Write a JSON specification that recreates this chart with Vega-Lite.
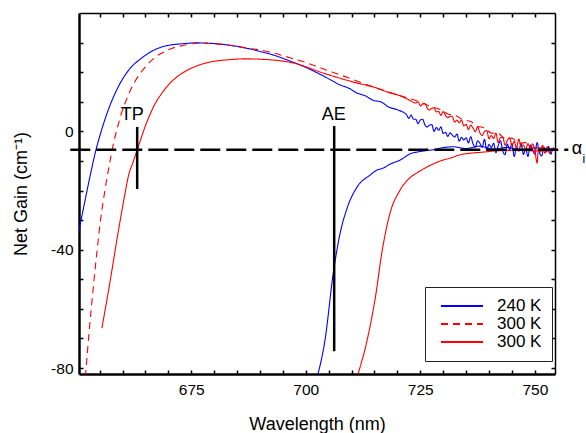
{
  "$schema": "https://vega.github.io/schema/vega-lite/v6.json",
  "width": 476,
  "height": 361,
  "autosize": {"type": "none"},
  "padding": {"left": 79, "top": 13, "right": 31, "bottom": 59},
  "background": "white",
  "config": {
    "view": {"stroke": null},
    "font": "Liberation Sans",
    "axis": {
      "grid": false,
      "labelFont": "Liberation Sans",
      "labelFontSize": 15.5,
      "labelColor": "black",
      "titleFont": "Liberation Sans",
      "titleFontSize": 18,
      "titleFontWeight": "normal",
      "titleColor": "black",
      "domainColor": "black",
      "tickColor": "black",
      "tickSize": -4,
      "tickWidth": 1.5
    },
    "legend": {
      "strokeColor": "#222222",
      "fillColor": "white",
      "padding": 10,
      "symbolType": "stroke",
      "symbolStrokeWidth": 2,
      "symbolSize": 1764,
      "clipHeight": 18,
      "labelFont": "Liberation Sans",
      "labelFontSize": 17,
      "labelColor": "black",
      "labelOffset": 13,
      "symbolOffset": 5,
      "rowPadding": 0
    }
  },
  "datasets": {
    "curves": [
      {"s": "a", "b": 1, "x": 650.3, "y": -35.0},
      {"s": "a", "b": 1, "x": 651.8, "y": -23.5},
      {"s": "a", "b": 1, "x": 653.0, "y": -14.5},
      {"s": "a", "b": 1, "x": 654.2, "y": -6.3},
      {"s": "a", "b": 1, "x": 655.5, "y": 0.8},
      {"s": "a", "b": 1, "x": 656.9, "y": 7.3},
      {"s": "a", "b": 1, "x": 658.7, "y": 13.9},
      {"s": "a", "b": 1, "x": 661.3, "y": 20.6},
      {"s": "a", "b": 1, "x": 664.2, "y": 24.8},
      {"s": "a", "b": 1, "x": 667.8, "y": 28.1},
      {"s": "a", "b": 1, "x": 670.5, "y": 29.2},
      {"s": "a", "b": 1, "x": 673.0, "y": 29.6},
      {"s": "a", "b": 1, "x": 676.0, "y": 29.9},
      {"s": "a", "b": 1, "x": 678.7, "y": 29.8},
      {"s": "a", "b": 1, "x": 682.4, "y": 29.3},
      {"s": "a", "b": 1, "x": 686.8, "y": 28.2},
      {"s": "a", "b": 1, "x": 690.0, "y": 27.0},
      {"s": "a", "b": 1, "x": 692.9, "y": 25.8},
      {"s": "a", "b": 1, "x": 696.5, "y": 23.8},
      {"s": "a", "b": 1, "x": 700.3, "y": 21.4},
      {"s": "a", "b": 1, "x": 704.0, "y": 18.6},
      {"s": "a", "b": 1, "x": 707.5, "y": 15.7},
      {"s": "a", "b": 1, "x": 709.5, "y": 14.5},
      {"s": "a", "b": 1, "x": 711.0, "y": 13.1},
      {"s": "a", "b": 1, "x": 713.0, "y": 12.0},
      {"s": "a", "b": 1, "x": 714.7, "y": 10.5},
      {"s": "a", "b": 1, "x": 716.5, "y": 9.9},
      {"s": "a", "b": 1, "x": 718.0, "y": 8.3},
      {"s": "a", "b": 1, "x": 720.0, "y": 7.3},
      {"s": "a", "b": 1, "x": 722.0, "y": 5.6},
      {"s": "a", "b": 1, "x": 722.5, "y": 4.4},
      {"s": "a", "b": 1, "x": 723.0, "y": 5.5},
      {"s": "a", "b": 1, "x": 723.5, "y": 4.1},
      {"s": "a", "b": 1, "x": 724.0, "y": 4.1},
      {"s": "a", "b": 1, "x": 724.5, "y": 2.6},
      {"s": "a", "b": 1, "x": 725.0, "y": 3.8},
      {"s": "a", "b": 1, "x": 725.5, "y": 4.1},
      {"s": "a", "b": 1, "x": 726.0, "y": 2.2},
      {"s": "a", "b": 1, "x": 726.5, "y": 1.5},
      {"s": "a", "b": 1, "x": 727.0, "y": 2.1},
      {"s": "a", "b": 1, "x": 727.5, "y": 2.3},
      {"s": "a", "b": 1, "x": 728.0, "y": 0.0},
      {"s": "a", "b": 1, "x": 728.5, "y": 1.3},
      {"s": "a", "b": 1, "x": 729.0, "y": 0.4},
      {"s": "a", "b": 1, "x": 729.5, "y": 1.5},
      {"s": "a", "b": 1, "x": 730.0, "y": -0.7},
      {"s": "a", "b": 1, "x": 730.5, "y": -0.3},
      {"s": "a", "b": 1, "x": 731.0, "y": -1.7},
      {"s": "a", "b": 1, "x": 731.5, "y": -0.5},
      {"s": "a", "b": 1, "x": 732.0, "y": -1.3},
      {"s": "a", "b": 1, "x": 732.5, "y": -1.9},
      {"s": "a", "b": 1, "x": 733.0, "y": -0.9},
      {"s": "a", "b": 1, "x": 733.5, "y": -3.3},
      {"s": "a", "b": 1, "x": 734.0, "y": -2.0},
      {"s": "a", "b": 1, "x": 734.5, "y": -2.9},
      {"s": "a", "b": 1, "x": 735.0, "y": -2.2},
      {"s": "a", "b": 1, "x": 735.5, "y": -3.9},
      {"s": "a", "b": 1, "x": 736.0, "y": -1.8},
      {"s": "a", "b": 1, "x": 736.5, "y": -4.2},
      {"s": "a", "b": 1, "x": 737.0, "y": -5.3},
      {"s": "a", "b": 1, "x": 737.5, "y": -3.2},
      {"s": "a", "b": 1, "x": 738.0, "y": -4.0},
      {"s": "a", "b": 1, "x": 738.5, "y": -5.4},
      {"s": "a", "b": 1, "x": 739.0, "y": -2.7},
      {"s": "a", "b": 1, "x": 739.5, "y": -6.3},
      {"s": "a", "b": 1, "x": 740.0, "y": -4.4},
      {"s": "a", "b": 1, "x": 740.5, "y": -5.5},
      {"s": "a", "b": 1, "x": 741.0, "y": -4.0},
      {"s": "a", "b": 1, "x": 741.5, "y": -7.2},
      {"s": "a", "b": 1, "x": 742.0, "y": -4.8},
      {"s": "a", "b": 1, "x": 742.5, "y": -3.2},
      {"s": "a", "b": 1, "x": 743.0, "y": -6.7},
      {"s": "a", "b": 1, "x": 743.5, "y": -7.9},
      {"s": "a", "b": 1, "x": 744.0, "y": -4.3},
      {"s": "a", "b": 1, "x": 744.5, "y": -6.2},
      {"s": "a", "b": 1, "x": 745.0, "y": -4.1},
      {"s": "a", "b": 1, "x": 745.5, "y": -8.5},
      {"s": "a", "b": 1, "x": 746.0, "y": -5.3},
      {"s": "a", "b": 1, "x": 746.5, "y": -6.7},
      {"s": "a", "b": 1, "x": 747.0, "y": -4.0},
      {"s": "a", "b": 1, "x": 747.5, "y": -7.8},
      {"s": "a", "b": 1, "x": 748.0, "y": -5.9},
      {"s": "a", "b": 1, "x": 748.5, "y": -8.5},
      {"s": "a", "b": 1, "x": 749.0, "y": -4.6},
      {"s": "a", "b": 1, "x": 749.5, "y": -6.2},
      {"s": "a", "b": 1, "x": 750.0, "y": -7.7},
      {"s": "a", "b": 1, "x": 750.5, "y": -3.8},
      {"s": "a", "b": 1, "x": 751.0, "y": -7.2},
      {"s": "a", "b": 1, "x": 751.5, "y": -8.3},
      {"s": "a", "b": 1, "x": 752.0, "y": -5.4},
      {"s": "a", "b": 1, "x": 752.5, "y": -7.0},
      {"s": "a", "b": 1, "x": 753.0, "y": -5.1},
      {"s": "a", "b": 1, "x": 753.5, "y": -7.7},
      {"s": "a", "b": 1, "x": 754.0, "y": -5.6},
      {"s": "a", "b": 1, "x": 754.4, "y": -6.5},

      {"s": "a", "b": 2, "x": 702.5, "y": -83.0},
      {"s": "a", "b": 2, "x": 704.2, "y": -70.5},
      {"s": "a", "b": 2, "x": 706.0, "y": -47.9},
      {"s": "a", "b": 2, "x": 707.5, "y": -34.4},
      {"s": "a", "b": 2, "x": 709.1, "y": -25.6},
      {"s": "a", "b": 2, "x": 711.2, "y": -18.8},
      {"s": "a", "b": 2, "x": 714.1, "y": -14.7},
      {"s": "a", "b": 2, "x": 715.5, "y": -13.1},
      {"s": "a", "b": 2, "x": 716.9, "y": -12.4},
      {"s": "a", "b": 2, "x": 718.5, "y": -11.0},
      {"s": "a", "b": 2, "x": 720.6, "y": -9.7},
      {"s": "a", "b": 2, "x": 722.8, "y": -7.6},
      {"s": "a", "b": 2, "x": 725.0, "y": -6.8},
      {"s": "a", "b": 2, "x": 727.8, "y": -6.2},
      {"s": "a", "b": 2, "x": 730.0, "y": -5.5},
      {"s": "a", "b": 2, "x": 732.2, "y": -5.2},
      {"s": "a", "b": 2, "x": 735.0, "y": -5.8},
      {"s": "a", "b": 2, "x": 738.0, "y": -5.0},
      {"s": "a", "b": 2, "x": 741.0, "y": -6.0},
      {"s": "a", "b": 2, "x": 744.0, "y": -5.4},
      {"s": "a", "b": 2, "x": 747.0, "y": -6.4},
      {"s": "a", "b": 2, "x": 750.0, "y": -5.6},
      {"s": "a", "b": 2, "x": 754.4, "y": -6.2},

      {"s": "b", "b": 1, "x": 651.9, "y": -83.0},
      {"s": "b", "b": 1, "x": 652.7, "y": -68.0},
      {"s": "b", "b": 1, "x": 653.6, "y": -53.0},
      {"s": "b", "b": 1, "x": 654.4, "y": -41.0},
      {"s": "b", "b": 1, "x": 655.2, "y": -30.0},
      {"s": "b", "b": 1, "x": 656.2, "y": -19.5},
      {"s": "b", "b": 1, "x": 657.1, "y": -11.5},
      {"s": "b", "b": 1, "x": 657.9, "y": -5.0},
      {"s": "b", "b": 1, "x": 658.8, "y": 0.8},
      {"s": "b", "b": 1, "x": 659.8, "y": 6.3},
      {"s": "b", "b": 1, "x": 661.0, "y": 11.3},
      {"s": "b", "b": 1, "x": 662.7, "y": 16.8},
      {"s": "b", "b": 1, "x": 664.9, "y": 21.6},
      {"s": "b", "b": 1, "x": 667.1, "y": 25.0},
      {"s": "b", "b": 1, "x": 669.9, "y": 27.5},
      {"s": "b", "b": 1, "x": 673.7, "y": 29.2},
      {"s": "b", "b": 1, "x": 676.5, "y": 29.8},
      {"s": "b", "b": 1, "x": 678.7, "y": 29.7},
      {"s": "b", "b": 1, "x": 682.4, "y": 29.3},
      {"s": "b", "b": 1, "x": 686.8, "y": 28.2},
      {"s": "b", "b": 1, "x": 690.0, "y": 27.5},
      {"s": "b", "b": 1, "x": 692.9, "y": 26.5},
      {"s": "b", "b": 1, "x": 696.5, "y": 24.9},
      {"s": "b", "b": 1, "x": 700.3, "y": 23.1},
      {"s": "b", "b": 1, "x": 704.0, "y": 21.0},
      {"s": "b", "b": 1, "x": 707.5, "y": 19.1},
      {"s": "b", "b": 1, "x": 711.0, "y": 17.1},
      {"s": "b", "b": 1, "x": 714.7, "y": 15.0},
      {"s": "b", "b": 1, "x": 718.5, "y": 13.1},
      {"s": "b", "b": 1, "x": 722.2, "y": 11.3},
      {"s": "b", "b": 1, "x": 725.5, "y": 9.6},
      {"s": "b", "b": 1, "x": 727.5, "y": 8.2},
      {"s": "b", "b": 1, "x": 729.4, "y": 7.4},
      {"s": "b", "b": 1, "x": 731.0, "y": 5.9},
      {"s": "b", "b": 1, "x": 733.0, "y": 5.1},
      {"s": "b", "b": 1, "x": 734.5, "y": 3.8},
      {"s": "b", "b": 1, "x": 736.0, "y": 3.3},
      {"s": "b", "b": 1, "x": 737.5, "y": 1.7},
      {"s": "b", "b": 1, "x": 739.0, "y": 1.2},
      {"s": "b", "b": 1, "x": 740.5, "y": -0.6},
      {"s": "b", "b": 1, "x": 742.0, "y": -0.7},
      {"s": "b", "b": 1, "x": 743.5, "y": -2.4},
      {"s": "b", "b": 1, "x": 745.0, "y": -2.3},
      {"s": "b", "b": 1, "x": 746.5, "y": -4.0},
      {"s": "b", "b": 1, "x": 748.0, "y": -3.8},
      {"s": "b", "b": 1, "x": 749.5, "y": -5.6},
      {"s": "b", "b": 1, "x": 751.0, "y": -4.9},
      {"s": "b", "b": 1, "x": 752.5, "y": -6.6},
      {"s": "b", "b": 1, "x": 754.4, "y": -5.8},

      {"s": "c", "b": 1, "x": 655.5, "y": -66.5},
      {"s": "c", "b": 1, "x": 656.3, "y": -59.5},
      {"s": "c", "b": 1, "x": 657.2, "y": -51.5},
      {"s": "c", "b": 1, "x": 658.1, "y": -43.0},
      {"s": "c", "b": 1, "x": 659.0, "y": -34.5},
      {"s": "c", "b": 1, "x": 659.9, "y": -26.5},
      {"s": "c", "b": 1, "x": 660.6, "y": -20.5},
      {"s": "c", "b": 1, "x": 661.3, "y": -15.0},
      {"s": "c", "b": 1, "x": 662.3, "y": -10.4},
      {"s": "c", "b": 1, "x": 663.2, "y": -6.3},
      {"s": "c", "b": 1, "x": 664.1, "y": -2.1},
      {"s": "c", "b": 1, "x": 665.0, "y": 1.9},
      {"s": "c", "b": 1, "x": 666.0, "y": 5.7},
      {"s": "c", "b": 1, "x": 667.1, "y": 9.3},
      {"s": "c", "b": 1, "x": 668.5, "y": 12.7},
      {"s": "c", "b": 1, "x": 669.9, "y": 15.5},
      {"s": "c", "b": 1, "x": 671.8, "y": 18.3},
      {"s": "c", "b": 1, "x": 673.7, "y": 20.3},
      {"s": "c", "b": 1, "x": 676.0, "y": 22.0},
      {"s": "c", "b": 1, "x": 678.7, "y": 23.3},
      {"s": "c", "b": 1, "x": 683.1, "y": 24.2},
      {"s": "c", "b": 1, "x": 686.8, "y": 24.5},
      {"s": "c", "b": 1, "x": 692.9, "y": 24.1},
      {"s": "c", "b": 1, "x": 697.3, "y": 23.1},
      {"s": "c", "b": 1, "x": 703.8, "y": 19.7},
      {"s": "c", "b": 1, "x": 711.3, "y": 16.3},
      {"s": "c", "b": 1, "x": 715.0, "y": 14.9},
      {"s": "c", "b": 1, "x": 718.4, "y": 13.0},
      {"s": "c", "b": 1, "x": 720.5, "y": 12.1},
      {"s": "c", "b": 1, "x": 722.2, "y": 10.9},
      {"s": "c", "b": 1, "x": 724.0, "y": 9.6},
      {"s": "c", "b": 1, "x": 724.5, "y": 10.0},
      {"s": "c", "b": 1, "x": 725.0, "y": 8.6},
      {"s": "c", "b": 1, "x": 725.5, "y": 9.2},
      {"s": "c", "b": 1, "x": 726.0, "y": 9.4},
      {"s": "c", "b": 1, "x": 726.5, "y": 7.9},
      {"s": "c", "b": 1, "x": 727.0, "y": 7.2},
      {"s": "c", "b": 1, "x": 727.5, "y": 7.8},
      {"s": "c", "b": 1, "x": 728.0, "y": 7.9},
      {"s": "c", "b": 1, "x": 728.5, "y": 6.6},
      {"s": "c", "b": 1, "x": 729.0, "y": 6.7},
      {"s": "c", "b": 1, "x": 729.5, "y": 5.4},
      {"s": "c", "b": 1, "x": 730.0, "y": 6.7},
      {"s": "c", "b": 1, "x": 730.5, "y": 5.4},
      {"s": "c", "b": 1, "x": 731.0, "y": 4.6},
      {"s": "c", "b": 1, "x": 731.5, "y": 5.1},
      {"s": "c", "b": 1, "x": 732.0, "y": 5.0},
      {"s": "c", "b": 1, "x": 732.5, "y": 3.1},
      {"s": "c", "b": 1, "x": 733.0, "y": 3.8},
      {"s": "c", "b": 1, "x": 733.5, "y": 2.9},
      {"s": "c", "b": 1, "x": 734.0, "y": 3.8},
      {"s": "c", "b": 1, "x": 734.5, "y": 1.8},
      {"s": "c", "b": 1, "x": 735.0, "y": 2.4},
      {"s": "c", "b": 1, "x": 735.5, "y": 0.6},
      {"s": "c", "b": 1, "x": 736.0, "y": 2.1},
      {"s": "c", "b": 1, "x": 736.5, "y": 1.1},
      {"s": "c", "b": 1, "x": 737.0, "y": -0.1},
      {"s": "c", "b": 1, "x": 737.5, "y": 1.5},
      {"s": "c", "b": 1, "x": 738.0, "y": -0.5},
      {"s": "c", "b": 1, "x": 738.5, "y": -1.4},
      {"s": "c", "b": 1, "x": 739.0, "y": -0.1},
      {"s": "c", "b": 1, "x": 739.5, "y": 0.3},
      {"s": "c", "b": 1, "x": 740.0, "y": -2.5},
      {"s": "c", "b": 1, "x": 740.5, "y": -1.4},
      {"s": "c", "b": 1, "x": 741.0, "y": -2.4},
      {"s": "c", "b": 1, "x": 741.5, "y": -0.6},
      {"s": "c", "b": 1, "x": 742.0, "y": -3.8},
      {"s": "c", "b": 1, "x": 742.5, "y": -2.1},
      {"s": "c", "b": 1, "x": 743.0, "y": -2.0},
      {"s": "c", "b": 1, "x": 743.5, "y": -4.7},
      {"s": "c", "b": 1, "x": 744.0, "y": -3.0},
      {"s": "c", "b": 1, "x": 744.5, "y": -2.2},
      {"s": "c", "b": 1, "x": 745.0, "y": -4.9},
      {"s": "c", "b": 1, "x": 745.5, "y": -3.4},
      {"s": "c", "b": 1, "x": 746.0, "y": -5.7},
      {"s": "c", "b": 1, "x": 746.5, "y": -2.6},
      {"s": "c", "b": 1, "x": 747.0, "y": -5.3},
      {"s": "c", "b": 1, "x": 747.5, "y": -4.6},
      {"s": "c", "b": 1, "x": 748.0, "y": -6.2},
      {"s": "c", "b": 1, "x": 748.5, "y": -4.1},
      {"s": "c", "b": 1, "x": 749.0, "y": -5.7},
      {"s": "c", "b": 1, "x": 749.5, "y": -4.2},
      {"s": "c", "b": 1, "x": 750.0, "y": -6.4},
      {"s": "c", "b": 1, "x": 750.5, "y": -10.7},
      {"s": "c", "b": 1, "x": 750.8, "y": -5.4},
      {"s": "c", "b": 1, "x": 751.2, "y": -7.0},
      {"s": "c", "b": 1, "x": 751.7, "y": -4.7},
      {"s": "c", "b": 1, "x": 752.2, "y": -7.4},
      {"s": "c", "b": 1, "x": 752.7, "y": -5.2},
      {"s": "c", "b": 1, "x": 753.2, "y": -7.4},
      {"s": "c", "b": 1, "x": 753.7, "y": -5.7},
      {"s": "c", "b": 1, "x": 754.4, "y": -6.5},

      {"s": "c", "b": 2, "x": 711.2, "y": -83.0},
      {"s": "c", "b": 2, "x": 713.4, "y": -70.5},
      {"s": "c", "b": 2, "x": 715.2, "y": -56.0},
      {"s": "c", "b": 2, "x": 716.7, "y": -40.1},
      {"s": "c", "b": 2, "x": 718.4, "y": -27.6},
      {"s": "c", "b": 2, "x": 720.6, "y": -19.8},
      {"s": "c", "b": 2, "x": 722.8, "y": -15.6},
      {"s": "c", "b": 2, "x": 724.3, "y": -14.0},
      {"s": "c", "b": 2, "x": 726.5, "y": -12.0},
      {"s": "c", "b": 2, "x": 730.0, "y": -9.7},
      {"s": "c", "b": 2, "x": 731.6, "y": -9.0},
      {"s": "c", "b": 2, "x": 733.7, "y": -7.9},
      {"s": "c", "b": 2, "x": 735.3, "y": -7.5},
      {"s": "c", "b": 2, "x": 738.8, "y": -7.0},
      {"s": "c", "b": 2, "x": 742.5, "y": -6.5},
      {"s": "c", "b": 2, "x": 746.0, "y": -6.4},
      {"s": "c", "b": 2, "x": 750.0, "y": -6.6},
      {"s": "c", "b": 2, "x": 754.4, "y": -6.4}
    ],
    "level": [{"x": 648.6, "x2": 757.3, "y": -6.2}],
    "marks": [
      {"label": "TP", "x": 663.2, "y": 1.5, "y2": -19.5, "tx": 662.1, "ty": 5.5},
      {"label": "AE", "x": 706.2, "y": 1.8, "y2": -74.3, "tx": 706.1, "ty": 5.5}
    ],
    "alpha": [
      {"t": "α", "x": 759.2, "y": -6.0, "size": 18},
      {"t": "i", "x": 760.7, "y": -9.2, "size": 12}
    ]
  },
  "layer": [
    {
      "data": {"name": "curves"},
      "mark": {"type": "line", "clip": true, "strokeWidth": 1.1, "interpolate": "monotone"},
      "encoding": {
        "x": {
          "field": "x", "type": "quantitative",
          "scale": {"domain": [650.5, 754.4], "nice": false, "zero": false},
          "axis": {
            "orient": "bottom",
            "title": "Wavelength (nm)",
            "values": [655, 660, 665, 670, 675, 680, 685, 690, 695, 700, 705, 710, 715, 720, 725, 730, 735, 740, 745, 750],
            "labelExpr": "datum.value % 25 == 0 ? datum.label : ''",
            "domainWidth": 2.5,
            "labelPadding": 12,
            "titlePadding": 18
          }
        },
        "y": {
          "field": "y", "type": "quantitative",
          "scale": {"domain": [-82, 40], "nice": false, "zero": false},
          "axis": {
            "orient": "left",
            "title": "Net Gain (cm⁻¹)",
            "values": [-80, -70, -60, -50, -40, -30, -20, -10, 0, 10, 20, 30],
            "labelExpr": "datum.value % 40 == 0 ? replace(datum.label, '−', '-') : ''",
            "domainWidth": 2.5,
            "labelPadding": 10,
            "titlePadding": 20
          }
        },
        "color": {
          "field": "s", "type": "nominal",
          "scale": {"domain": ["a", "b", "c"], "range": ["#0000ff", "#ff0000", "#ff0000"]},
          "legend": {"title": null, "orient": "none", "legendX": 346, "legendY": 274, "labelExpr": "datum.label == 'a' ? '240 K' : '300 K'"}
        },
        "strokeDash": {
          "field": "s", "type": "nominal",
          "scale": {"domain": ["a", "b", "c"], "range": [[1, 0], [7, 5], [1, 0]]},
          "legend": {"title": null, "orient": "none", "legendX": 346, "legendY": 274, "labelExpr": "datum.label == 'a' ? '240 K' : '300 K'"}
        },
        "detail": {"field": "b", "type": "nominal"}
      }
    },
    {
      "data": {"name": "level"},
      "mark": {"type": "rule", "color": "black", "strokeWidth": 2.5, "strokeDash": [20, 6], "clip": false},
      "encoding": {
        "x": {
          "field": "x", "type": "quantitative",
          "axis": {
            "orient": "top", "title": null, "labels": false,
            "values": [655, 660, 665, 670, 675, 680, 685, 690, 695, 700, 705, 710, 715, 720, 725, 730, 735, 740, 745, 750],
            "domainWidth": 1.5
          }
        },
        "x2": {"field": "x2"},
        "y": {
          "field": "y", "type": "quantitative",
          "axis": {
            "orient": "right", "title": null, "labels": false,
            "values": [-80, -70, -60, -50, -40, -30, -20, -10, 0, 10, 20, 30],
            "domainWidth": 1.5
          }
        }
      }
    },
    {
      "data": {"name": "marks"},
      "mark": {"type": "rule", "color": "black", "strokeWidth": 2.5},
      "encoding": {
        "x": {"field": "x", "type": "quantitative", "axis": null},
        "y": {"field": "y", "type": "quantitative", "axis": null},
        "y2": {"field": "y2"}
      }
    },
    {
      "data": {"name": "marks"},
      "mark": {"type": "text", "fontSize": 18, "font": "Liberation Sans", "color": "black", "align": "center", "baseline": "middle"},
      "encoding": {
        "x": {"field": "tx", "type": "quantitative", "axis": null},
        "y": {"field": "ty", "type": "quantitative", "axis": null},
        "text": {"field": "label"}
      }
    },
    {
      "data": {"name": "alpha"},
      "mark": {"type": "text", "font": "Liberation Sans", "color": "black", "align": "center", "baseline": "middle", "clip": false},
      "encoding": {
        "x": {"field": "x", "type": "quantitative", "axis": null},
        "y": {"field": "y", "type": "quantitative", "axis": null},
        "text": {"field": "t"},
        "size": {"field": "size", "type": "quantitative", "scale": null, "legend": null}
      }
    }
  ],
  "resolve": {"axis": {"x": "independent", "y": "independent"}}
}
